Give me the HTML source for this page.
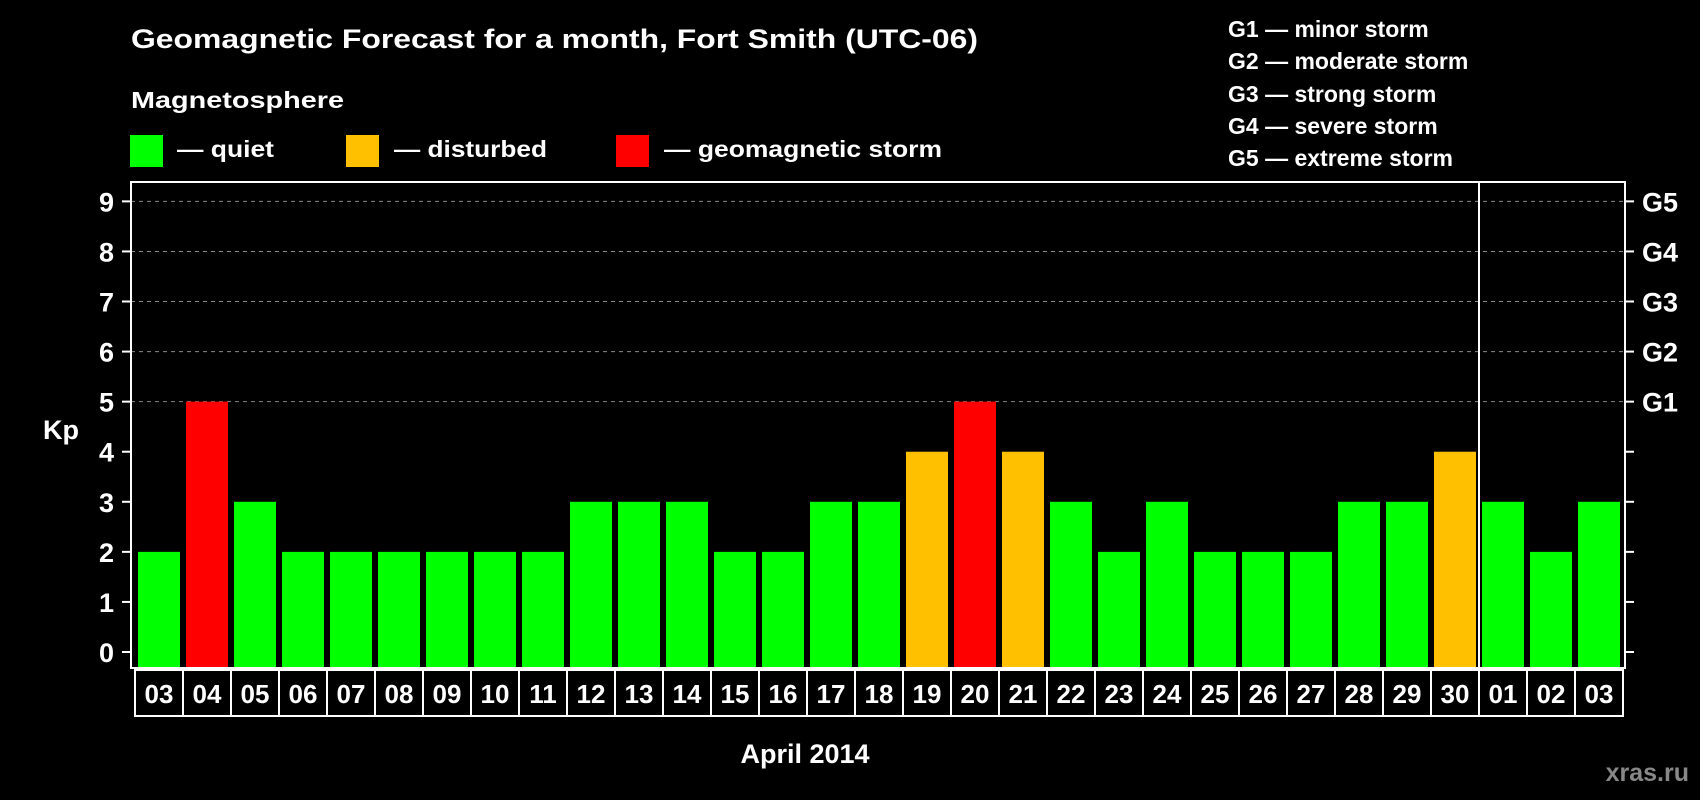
<!DOCTYPE html>
<html><head><meta charset="utf-8"><style>
html,body{margin:0;padding:0;background:#000;}
svg{display:block;font-family:"Liberation Sans",Arial,sans-serif;font-weight:bold;}
</style></head><body>
<svg id="chart" width="1700" height="800" viewBox="0 0 1700 800">
<rect width="1700" height="800" fill="#000"/>
<text x="131" y="48" fill="#fff" font-size="27" textLength="847" lengthAdjust="spacingAndGlyphs">Geomagnetic Forecast for a month, Fort Smith (UTC-06)</text>
<text x="131" y="108" fill="#fff" font-size="23" textLength="213" lengthAdjust="spacingAndGlyphs">Magnetosphere</text>
<g>
<rect x="130" y="135" width="33" height="32" fill="#00ff00"/>
<text x="177" y="157" fill="#fff" font-size="23" textLength="97" lengthAdjust="spacingAndGlyphs">— quiet</text></g>
<g>
<rect x="346" y="135" width="33" height="32" fill="#ffc000"/>
<text x="394" y="157" fill="#fff" font-size="23" textLength="153" lengthAdjust="spacingAndGlyphs">— disturbed</text></g>
<g>
<rect x="616" y="135" width="33" height="32" fill="#ff0000"/>
<text x="664" y="157" fill="#fff" font-size="23" textLength="278" lengthAdjust="spacingAndGlyphs">— geomagnetic storm</text></g>
<g fill="#fff" font-size="23">
<text x="1228" y="37">G1 — minor storm</text>
<text x="1228" y="69">G2 — moderate storm</text>
<text x="1228" y="102">G3 — strong storm</text>
<text x="1228" y="134">G4 — severe storm</text>
<text x="1228" y="166">G5 — extreme storm</text>
</g>
<g id="grid"></g>
<g id="bars"></g>
<g id="axes"></g>
<text x="43" y="439" fill="#fff" font-size="27">Kp</text>
<text x="805" y="763" fill="#fff" font-size="27" text-anchor="middle">April 2014</text>
<text x="1689" y="781" fill="#888" font-size="25" text-anchor="end">xras.ru</text>
</svg>
<script>
const days = ["03","04","05","06","07","08","09","10","11","12","13","14","15","16","17","18","19","20","21","22","23","24","25","26","27","28","29","30","01","02","03"];
const kpValues = [2,5,3,2,2,2,2,2,2,3,3,3,2,2,3,3,4,5,4,3,2,3,2,2,2,3,3,4,3,2,3];
const yTicks = [0,1,2,3,4,5,6,7,8,9];
const gLabels = ["G1","G2","G3","G4","G5"];
const monthBreakIndex = 28;

const NS = "http://www.w3.org/2000/svg";
const L = 131, R = 1625, T = 182, B = 668;
const x0 = 138, step = 48, bw = 42;
const yScale = v => 652 - v * 50.07;
const xScale = i => x0 + i * step;
function mk(tag, attrs, parent) {
  const e = document.createElementNS(NS, tag);
  for (const k in attrs) e.setAttribute(k, attrs[k]);
  parent.appendChild(e);
  return e;
}
const grid = document.getElementById("grid"), bars = document.getElementById("bars"), axes = document.getElementById("axes");
yTicks.forEach(v => {
  const y = yScale(v);
  if (v >= 5) {
    const g = mk("line", {x1: L, x2: R, y1: y, y2: y, stroke: "#888", "stroke-width": 1, "stroke-dasharray": "4,4"}, grid);
    
    
  }
  const t1 = mk("line", {x1: 122, x2: L, y1: y, y2: y, stroke: "#fff", "stroke-width": 2}, axes);
  
  
  const t2 = mk("line", {x1: R, x2: 1634, y1: y, y2: y, stroke: "#fff", "stroke-width": 2}, axes);
  
  
  const lbl = mk("text", {x: 114, y: y + 10, fill: "#fff", "font-size": 27, "text-anchor": "end"}, axes);
  lbl.textContent = v;
  
  
  if (v >= 5) {
    const gl = mk("text", {x: 1642, y: y + 10, fill: "#fff", "font-size": 27}, axes);
    gl.textContent = gLabels[v - 5];
    
    
  }
});
kpValues.forEach((v, i) => {
  const col = v >= 5 ? "#ff0000" : (v >= 4 ? "#ffc000" : "#00ff00");
  const b = mk("rect", {x: xScale(i), y: yScale(v), width: bw, height: B - yScale(v), fill: col}, bars);
  
  
});
const frame = mk("rect", {x: L, y: T, width: R - L, height: B - T, fill: "none", stroke: "#fff", "stroke-width": 2}, axes);


const sepX = xScale(monthBreakIndex) - 3;
const sep = mk("line", {x1: sepX, x2: sepX, y1: T, y2: B, stroke: "#fff", "stroke-width": 2}, axes);


days.forEach((d, i) => {
  const bx = xScale(i) - 3;
  const box = mk("rect", {x: bx, y: 670, width: step, height: 46, fill: "none", stroke: "#fff", "stroke-width": 2}, axes);
  
  
  const t = mk("text", {x: xScale(i) + bw / 2, y: 703, fill: "#fff", "font-size": 26, "text-anchor": "middle"}, axes);
  t.textContent = d;
  
  
});
</script>
</body></html>
